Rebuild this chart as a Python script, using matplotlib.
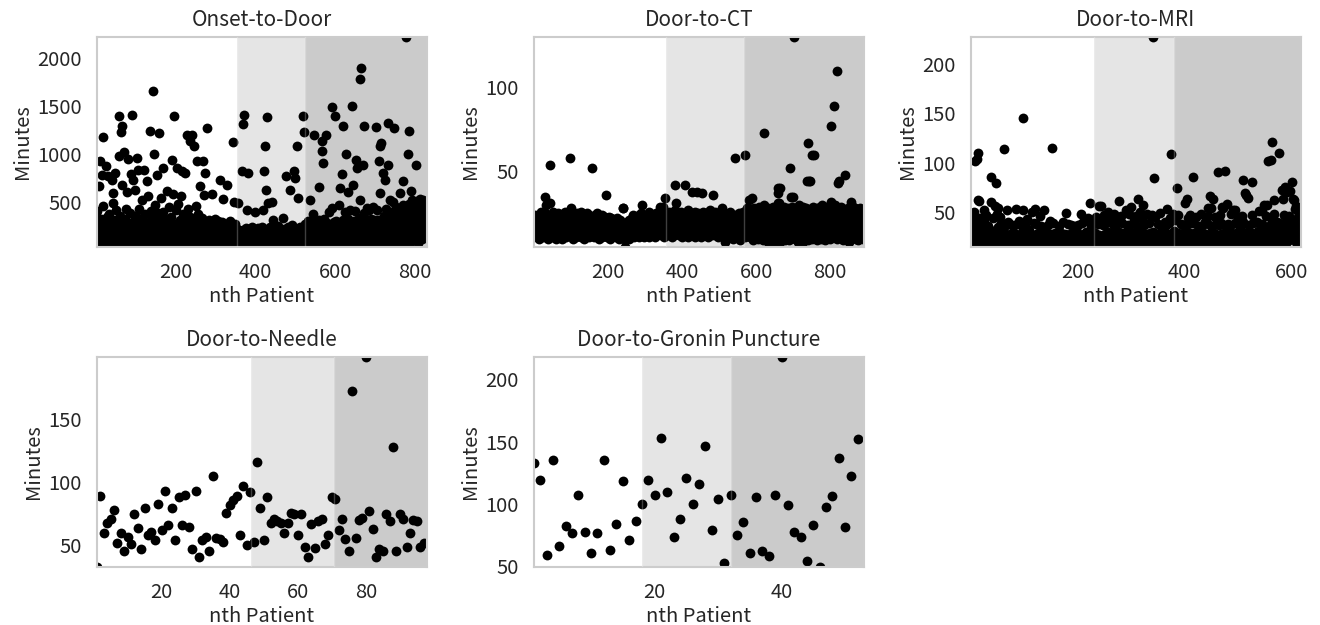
import numpy as np
import matplotlib
matplotlib.use('Agg')
import matplotlib.pyplot as plt

plt.rcParams['font.family'] = ['Noto Sans CJK JP', 'DejaVu Sans']
plt.rcParams['font.size'] = 14.5
plt.rcParams['text.color'] = '#262626'
plt.rcParams['axes.labelcolor'] = '#262626'
plt.rcParams['xtick.color'] = '#262626'
plt.rcParams['ytick.color'] = '#262626'

# minutes per patient, in admission order
onset_to_door = [
    120, 410, 60, 250, 95, 663, 180, 45, 923, 330, 75, 140, 784, 210, 1173, 55, 460, 160, 90, 300,
    70, 230, 120, 871, 40, 350, 150, 85, 767, 200, 60, 380, 110, 170, 50, 260, 95, 732, 140, 489,
    65, 593, 190, 310, 80, 802, 140, 45, 420, 220, 100, 170, 55, 280, 130, 1392, 975, 75, 240, 360,
    1225, 90, 1295, 680, 150, 40, 260, 120, 1020, 70, 330, 185, 95, 430, 60, 611, 210, 135, 50, 951,
    110, 280, 65, 170, 390, 791, 45, 230, 140, 1409, 85, 732, 300, 60, 190, 120, 628, 75, 250, 360,
    958, 100, 55, 210, 836, 150, 430, 80, 260, 40, 175, 330, 120, 70, 520, 195, 90, 836, 240, 60,
    145, 380, 85, 220, 50, 715, 170, 110, 560, 65, 290, 130, 1236, 45, 200, 410, 95, 160, 70, 340,
    120, 55, 1652, 230, 1003, 80, 470, 150, 60, 270, 784, 105, 190, 390, 45, 140, 220, 1218, 85, 310,
    70, 180, 540, 120, 260, 50, 400, 853, 95, 210, 145, 60, 330, 175, 80, 620, 240, 110, 45, 290,
    130, 75, 450, 200, 55, 160, 350, 100, 940, 230, 65, 580, 140, 85, 1392, 270, 50, 190, 420, 115,
    853, 60, 250, 135, 480, 90, 205, 40, 320, 160, 75, 560, 120, 819, 210, 55, 380, 150, 95, 270,
    70, 802, 185, 45, 300, 125, 1201, 240, 90, 430, 160, 60, 220, 110, 1131, 350, 80, 195, 50, 260,
    1201, 140, 65, 1079, 310, 100, 230, 55, 460, 175, 85, 930, 270, 130, 45, 380, 150, 210, 70, 663,
    115, 250, 60, 340, 180, 90, 220, 930, 576, 45, 150, 290, 802, 105, 200, 65, 1270, 170, 80, 240,
    130, 55, 310, 195, 75, 260, 140, 40, 583, 220, 95, 170, 60, 280, 125, 210, 85, 330, 150, 50,
    190, 110, 260, 70, 160, 300, 45, 225, 135, 732, 80, 240, 180, 60, 290, 120, 205, 90, 531, 150,
    55, 230, 170, 100, 275, 65, 680, 140, 210, 45, 185, 120, 250, 80, 160, 300, 95, 215, 60, 130,
    240, 75, 180, 1121, 500, 110, 200, 50, 270, 150, 90, 225, 60, 170, 130, 489, 80, 210, 35, 160,
    120, 70, 190, 55, 140, 819, 90, 210, 1316, 60, 1409, 160, 100, 45, 230, 80, 420, 130, 180, 65,
    802, 150, 95, 220, 50, 170, 115, 75, 200, 140, 60, 240, 100, 180, 45, 130, 210, 402, 85, 160,
    70, 195, 120, 55, 230, 150, 90, 175, 40, 210, 130, 80, 160, 60, 240, 110, 185, 70, 420, 140,
    95, 819, 1079, 200, 60, 628, 150, 1385, 85, 220, 120, 489, 50, 175, 110, 240, 70, 160, 130, 506,
    90, 190, 55, 315, 145, 230, 75, 170, 110, 45, 210, 135, 65, 185, 250, 95, 155, 60, 220, 120,
    80, 175, 140, 50, 205, 100, 160, 70, 333, 125, 225, 60, 185, 90, 150, 767, 45, 210, 115, 170,
    65, 240, 130, 95, 180, 628, 55, 215, 150, 85, 260, 110, 170, 50, 200, 819, 135, 75, 749, 190,
    60, 225, 1079, 120, 165, 80, 541, 205, 45, 145, 240, 100, 180, 70, 230, 130, 55, 195, 110, 1392,
    1225, 150, 80, 270, 195, 60, 240, 130, 210, 90, 300, 170, 50, 230, 110, 524, 215, 70, 260, 160,
    95, 250, 185, 60, 380, 140, 1201, 220, 75, 290, 120, 210, 45, 260, 170, 90, 230, 656, 135, 310,
    65, 230, 160, 270, 100, 1131, 200, 1027, 55, 906, 250, 145, 330, 85, 240, 120, 1201, 190, 60, 280,
    150, 230, 90, 400, 175, 50, 260, 125, 220, 70, 440, 160, 1486, 240, 100, 290, 60, 190, 1392, 250,
    130, 300, 80, 250, 170, 45, 270, 115, 470, 210, 65, 645, 160, 260, 100, 795, 230, 55, 310, 1288,
    140, 270, 90, 400, 185, 60, 1003, 280, 120, 240, 75, 330, 611, 165, 250, 50, 215, 420, 105, 280,
    155, 70, 1496, 250, 680, 130, 300, 95, 200, 410, 60, 940, 260, 170, 853, 110, 290, 220, 80, 340,
    140, 1781, 524, 260, 1896, 100, 280, 180, 55, 888, 230, 390, 1295, 125, 300, 75, 250, 190, 440, 90,
    210, 290, 60, 260, 150, 420, 105, 240, 330, 70, 190, 280, 130, 450, 85, 240, 160, 310, 50, 220,
    120, 1281, 260, 420, 175, 310, 80, 250, 140, 923, 290, 1079, 593, 200, 1114, 95, 330, 240, 60, 280,
    802, 150, 360, 230, 732, 85, 300, 180, 430, 120, 250, 1322, 888, 60, 290, 200, 340, 524, 140, 260,
    95, 400, 220, 310, 160, 506, 260, 1270, 110, 350, 240, 70, 450, 190, 300, 130, 390, 240, 85, 330,
    200, 300, 593, 150, 420, 260, 75, 360, 180, 470, 715, 120, 330, 230, 400, 90, 280, 2215, 170, 430,
    250, 360, 130, 999, 480, 1236, 210, 90, 400, 618, 300, 170, 520, 240, 440, 110, 350, 500, 190, 280,
    420, 150, 888, 330, 510, 240, 460, 80, 506, 380, 270, 490, 180, 530, 350, 220, 489, 410, 120, 470,
    300, 520, 200, 440, 360, 500, 160, 480, 260, 420,
]

door_to_ct = [
    16, 21, 12, 18, 24, 14, 19, 11, 22, 17, 13, 20, 15, 23, 10, 18, 21, 14, 26, 12,
    19, 15, 22, 11, 17, 24, 13, 20, 16, 25, 35, 14, 18, 30, 12, 21, 16, 23, 10, 19,
    15, 22, 54, 31, 13, 20, 17, 24, 11, 18, 21, 14, 26, 16, 12, 23, 19, 15, 22, 10,
    18, 13, 21, 16, 25, 11, 19, 23, 14, 17, 22, 12, 20, 15, 24, 18, 10, 21, 13, 19,
    16, 22, 12, 26, 18, 14, 23, 11, 20, 17, 24, 13, 19, 15, 21, 12, 25, 17, 58, 14,
    20, 28, 16, 12, 23, 18, 10, 21, 15, 24, 13, 19, 17, 22, 11, 25, 16, 14, 20, 18,
    12, 23, 17, 21, 14, 19, 26, 11, 18, 22, 15, 13, 24, 16, 20, 10, 21, 17, 14, 23,
    18, 12, 25, 15, 20, 22, 13, 17, 24, 11, 19, 16, 21, 14, 23, 12, 18, 52, 15, 20,
    22, 14, 17, 11, 24, 19, 13, 21, 16, 25, 12, 18, 23, 15, 10, 20, 17, 22, 14, 19,
    13, 21, 16, 24, 11, 18, 20, 15, 22, 12, 17, 23, 14, 19, 36, 16, 21, 11, 18, 13,
    20, 15, 23, 12, 18, 10, 21, 16, 14, 22, 19, 11, 17, 13, 20, 15, 12, 18, 21, 14,
    16, 11, 19, 13, 22, 15, 12, 18, 10, 20, 14, 17, 12, 21, 15, 11, 19, 13, 16, 28,
    14, 28, 12, 17, 10, 15, 5, 19, 13, 11, 16, 20, 12, 14, 18, 10, 21, 15, 13, 17,
    11, 19, 14, 22, 16, 12, 20, 13, 24, 15, 18, 11, 21, 14, 17, 23, 12, 19, 16, 22,
    13, 20, 15, 24, 11, 18, 22, 14, 17, 25, 30, 16, 12, 21, 19, 14, 23, 11, 18, 20,
    15, 22, 13, 19, 24, 12, 17, 21, 14, 26, 16, 11, 20, 23, 15, 18, 12, 22, 17, 14,
    21, 16, 24, 13, 19, 11, 22, 15, 18, 25, 14, 20, 12, 23, 17, 16, 21, 13, 26, 19,
    29, 15, 22, 12, 18, 24, 14, 20, 16, 29, 11, 21, 17, 34, 13, 23, 19, 15, 22, 18,
    14, 24, 12, 20, 17, 26, 13, 22, 15, 19, 21, 11, 25, 16, 18, 23, 14, 20, 12, 27,
    17, 42, 22, 31, 15, 24, 19, 13, 21, 16, 25, 12, 20, 18, 23, 14, 26, 17, 11, 22,
    19, 15, 24, 13, 20, 17, 42, 22, 12, 25, 16, 21, 14, 19, 23, 11, 27, 18, 15, 22,
    13, 20, 24, 16, 18, 38, 12, 22, 25, 15, 19, 14, 21, 17, 26, 11, 23, 16, 20, 38,
    18, 14, 22, 25, 12, 19, 16, 24, 13, 21, 17, 11, 20, 37, 15, 23, 18, 26, 14, 21,
    16, 22, 12, 19, 25, 14, 20, 17, 23, 11, 18, 24, 15, 21, 13, 27, 19, 16, 22, 12,
    20, 15, 36, 24, 17, 13, 21, 18, 26, 12, 19, 23, 15, 20, 16, 25, 11, 22, 18, 14,
    21, 17, 13, 24, 19, 15, 22, 28, 12, 20, 16, 25, 14, 18, 21, 8, 23, 17, 13, 19,
    15, 22, 18, 11, 24, 16, 20, 13, 26, 17, 21, 12, 19, 23, 14, 18, 22, 10, 16, 20,
    13, 24, 17, 58, 21, 11, 19, 15, 23, 18, 12, 22, 16, 25, 14, 20, 9, 18, 24, 15,
    21, 12, 19, 26, 16, 22, 14, 18, 25, 11, 60, 20, 15, 23, 17, 28, 13, 21, 19, 24,
    33, 16, 24, 11, 27, 19, 14, 22, 34, 17, 25, 9, 20, 28, 15, 23, 12, 26, 18, 21,
    14, 27, 19, 10, 24, 17, 29, 13, 22, 16, 26, 11, 20, 28, 15, 23, 18, 9, 25, 73,
    30, 16, 24, 12, 21, 27, 18, 14, 26, 10, 22, 19, 28, 7, 17, 25, 13, 23, 20, 15,
    26, 11, 22, 18, 29, 14, 24, 9, 20, 27, 16, 23, 12, 28, 19, 5, 25, 37, 31, 40,
    6, 31, 17, 25, 40, 13, 22, 28, 10, 19, 26, 15, 23, 12, 29, 18, 24, 9, 21, 27,
    14, 25, 18, 11, 28, 20, 16, 26, 9, 23, 13, 52, 19, 35, 24, 12, 29, 17, 22, 35,
    130, 15, 26, 10, 21, 28, 17, 24, 13, 27, 19, 8, 25, 16, 22, 30, 12, 26, 18, 23,
    11, 27, 7, 20, 25, 14, 29, 17, 22, 10, 26, 19, 24, 13, 28, 44, 16, 21, 9, 67,
    23, 15, 44, 27, 44, 12, 25, 18, 22, 60, 10, 26, 17, 29, 14, 21, 60, 24, 11, 27,
    16, 23, 9, 28, 19, 25, 13, 21, 27, 11, 24, 18, 29, 15, 22, 10, 30, 26, 17, 23,
    12, 28, 20, 25, 14, 22, 9, 27, 18, 24, 11, 29, 16, 23, 21, 13, 26, 19, 10, 28,
    32, 17, 77, 15, 25, 22, 12, 26, 18, 29, 89, 24, 30, 20, 14, 27, 110, 21, 10, 25,
    43, 16, 44, 28, 11, 23, 19, 26, 13, 29, 17, 22, 9, 25, 20, 15, 27, 12, 24, 18,
    48, 21, 14, 26, 10, 23, 19, 28, 16, 22, 8, 25, 13, 20, 32, 27, 11, 24, 18, 29,
    15, 22, 26, 12, 19, 28, 16, 23, 10, 25, 18, 21, 27, 14, 24, 9, 20, 26, 13, 28,
    17, 23, 11, 25, 19, 27, 14, 22, 10, 21,
]

door_to_mri = [
    45, 28, 19, 36, 24, 50, 31, 102, 22, 40, 18, 104, 33, 110, 62, 61, 27, 44, 20, 35,
    23, 38, 17, 26, 42, 52, 22, 29, 19, 47, 25, 21, 36, 24, 28, 18, 32, 86, 60, 27,
    26, 20, 44, 25, 31, 56, 22, 80, 48, 18, 35, 54, 28, 23, 21, 45, 26, 39, 17, 24,
    24, 30, 114, 20, 27, 22, 37, 52, 19, 40, 23, 26, 21, 38, 15, 28, 25, 21, 30, 25,
    29, 19, 24, 22, 27, 53, 20, 38, 17, 41, 23, 28, 20, 26, 25, 36, 18, 145, 52, 28,
    22, 37, 19, 26, 24, 43, 21, 28, 17, 32, 24, 29, 20, 25, 50, 27, 18, 39, 23, 53,
    27, 19, 38, 25, 22, 29, 18, 26, 21, 46, 21, 36, 24, 19, 28, 23, 52, 20, 32, 27,
    18, 29, 23, 26, 37, 20, 24, 41, 19, 28, 22, 115, 26, 17, 39, 25, 22, 21, 29, 24,
    19, 27, 25, 22, 36, 18, 24, 23, 20, 29, 26, 21, 17, 40, 23, 21, 28, 49, 25, 19,
    26, 38, 21, 24, 18, 28, 22, 37, 20, 27, 25, 19, 36, 22, 29, 17, 26, 23, 30, 21,
    37, 20, 27, 24, 19, 48, 23, 39, 18, 26, 22, 28, 41, 21, 25, 24, 30, 19, 27, 44,
    23, 28, 20, 59, 26, 36, 18, 24, 22, 40, 21, 29, 27, 22, 45, 25, 19, 38, 25, 56,
    27, 21, 42, 26, 56, 19, 37, 24, 47, 22, 28, 18, 39, 25, 23, 20, 30, 50, 24, 29,
    19, 29, 43, 23, 27, 17, 38, 48, 26, 21, 36, 24, 28, 19, 45, 24, 30, 61, 22, 26,
    27, 46, 20, 39, 25, 22, 18, 29, 26, 52, 22, 31, 24, 19, 37, 26, 48, 21, 28, 30,
    55, 23, 27, 18, 42, 25, 38, 20, 46, 25, 31, 19, 26, 63, 24, 29, 50, 21, 36, 28,
    44, 19, 57, 37, 25, 23, 22, 28, 18, 48, 27, 24, 20, 39, 26, 29, 21, 25, 47, 24,
    30, 227, 85, 29, 19, 45, 25, 27, 22, 38, 28, 18, 26, 24, 49, 20, 36, 26, 23, 21,
    31, 27, 40, 19, 37, 24, 53, 23, 28, 20, 39, 26, 44, 18, 109, 29, 25, 22, 48, 25,
    31, 19, 42, 27, 25, 75, 22, 47, 29, 18, 24, 25, 38, 21, 28, 28, 20, 37, 24, 26,
    59, 26, 37, 63, 19, 44, 30, 23, 27, 21, 47, 27, 25, 18, 39, 25, 86, 29, 20, 24,
    24, 45, 28, 19, 36, 22, 26, 30, 18, 27, 26, 48, 21, 29, 25, 38, 19, 40, 28, 23,
    22, 39, 27, 46, 54, 20, 28, 66, 54, 36, 24, 26, 63, 19, 29, 28, 45, 21, 38, 26,
    27, 19, 91, 37, 24, 47, 22, 39, 28, 25, 55, 18, 54, 29, 26, 92, 36, 20, 58, 29,
    23, 38, 26, 19, 36, 27, 48, 21, 28, 52, 25, 24, 18, 39, 52, 29, 22, 27, 26, 45,
    20, 37, 28, 25, 23, 36, 19, 46, 83, 40, 25, 27, 69, 21, 29, 67, 27, 24, 64, 22,
    37, 30, 19, 26, 26, 47, 81, 24, 39, 20, 28, 28, 24, 22, 40, 18, 31, 26, 29, 51,
    23, 28, 29, 20, 51, 38, 25, 57, 19, 26, 32, 27, 46, 21, 57, 102, 24, 30, 36, 36,
    44, 103, 20, 121, 28, 27, 48, 62, 22, 37, 30, 25, 19, 40, 26, 39, 110, 23, 29, 28,
    36, 21, 73, 63, 38, 47, 25, 76, 28, 19, 43, 71, 27, 36, 22, 46, 72, 29, 39, 24,
    81, 33, 63, 26, 62, 41, 53, 56, 20, 37, 28, 45, 23, 35, 49, 19, 27,
]

door_to_needle = [
    33, 89, 60, 68, 71, 78, 52, 60, 46, 57, 51, 75, 64, 47, 80, 58, 61, 54, 83, 62,
    93, 66, 80, 54, 88, 66, 90, 65, 47, 93, 41, 54, 57, 46, 105, 56, 55, 53, 76, 82,
    86, 89, 58, 97, 50, 92, 53, 116, 80, 54, 88, 68, 71, 69, 68, 60, 68, 76, 75, 58,
    75, 49, 41, 67, 48, 69, 71, 51, 58, 88, 87, 62, 71, 55, 46, 172, 56, 70, 72, 199,
    77, 63, 41, 47, 46, 75, 69, 128, 46, 75, 71, 49, 60, 70, 69, 49, 52,
]

door_to_puncture = [
    133, 119, 59, 135, 66, 82, 76, 107, 77, 60, 76, 135, 63, 84, 118, 71, 86, 100, 119, 107,
    153, 109, 73, 88, 121, 100, 116, 146, 79, 104, 52, 107, 75, 85, 60, 105, 62, 58, 107, 218,
    99, 77, 73, 54, 83, 49, 97, 106, 137, 81, 122, 152,
]

titles = ['Onset-to-Door', 'Door-to-CT', 'Door-to-MRI', 'Door-to-Needle', 'Door-to-Gronin Puncture']
# first patient of the 2nd and 3rd periods
period_starts = [[354, 525], [356, 567], [231, 381], [46.3, 70.6], [18.0, 32.1]]
x_ticks = [[200, 400, 600, 800], [200, 400, 600, 800], [200, 400, 600], [20, 40, 60, 80], [20, 40]]
y_ticks = [[500, 1000, 1500, 2000], [50, 100], [50, 100, 150, 200], [50, 100, 150], [50, 100, 150, 200]]

series = [onset_to_door, door_to_ct, door_to_mri, door_to_needle, door_to_puncture]

fig, axes = plt.subplots(2, 3, figsize=(13.2, 6.25), dpi=100)
plt.subplots_adjust(left=0.0735, right=0.9856, top=0.9408, bottom=0.0928, wspace=0.324, hspace=0.524)
axes = axes.flatten()
axes[5].axis('off')

for i, values in enumerate(series):
    ax = axes[i]
    x = np.arange(1, len(values) + 1)
    x_end = len(values) + 1
    ax.axvspan(period_starts[i][0], period_starts[i][1], color='#e5e5e5', lw=0, zorder=0)
    ax.axvspan(period_starts[i][1], x_end, color='#cbcbcb', lw=0, zorder=0)
    ax.scatter(x, values, s=50, c='black', linewidths=0, zorder=2)
    for b in period_starts[i]:
        ax.axvline(b, color='white', alpha=0.25, lw=1, zorder=3)

    ax.set_xlim(1, x_end)
    ax.set_ylim(min(values), max(values))
    ax.set_xticks(x_ticks[i])
    ax.set_yticks(y_ticks[i])
    ax.tick_params(length=0, pad=11)
    ax.grid(False)
    for s in ax.spines.values():
        s.set_color('#cccccc')
        s.set_linewidth(1.5)

    ax.set_title(titles[i], fontsize=15, pad=8)
    ax.set_xlabel('nth Patient', labelpad=2)
    ax.set_ylabel('Minutes', labelpad=3)

plt.savefig('out.png', dpi=100)
